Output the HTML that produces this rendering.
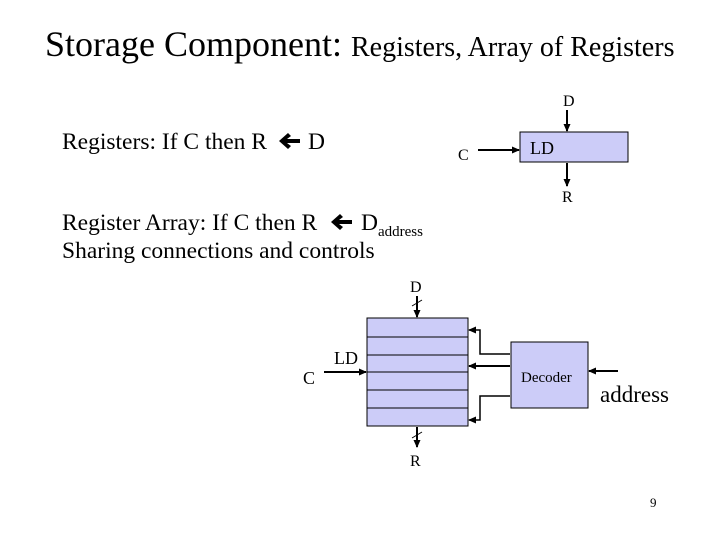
<!DOCTYPE html>
<html><head><meta charset="utf-8"><style>
body{margin:0;background:#fff}
svg text{font-family:"Liberation Serif",serif;fill:#000}
</style></head><body>
<svg width="720" height="540" viewBox="0 0 720 540" xmlns="http://www.w3.org/2000/svg">
<defs><marker id="a" markerWidth="8" markerHeight="8" refX="7" refY="4" orient="auto" markerUnits="userSpaceOnUse"><path d="M0,0.5 L8,4 L0,7.5z" fill="#000"/></marker></defs>
<text x="45" y="56" font-size="36">Storage Component: <tspan font-size="28">Registers, Array of Registers</tspan></text>
<text x="62" y="149" font-size="23.5">Registers: If C then R</text>
<path d="M279,141 L288,133 L291,136 L287,139 L300,139 L300,143 L287,143 L291,146 L288,149 Z" fill="#000"/>
<text x="308" y="149" font-size="23.5">D</text>
<text x="62" y="230" font-size="23.5">Register Array: If C then R</text>
<path d="M331,222 L340,214 L343,217 L339,220 L352,220 L352,224 L339,224 L343,227 L340,230 Z" fill="#000"/>
<text x="361" y="230" font-size="23.5">D<tspan font-size="15" dy="6">address</tspan></text>
<text x="62" y="258" font-size="23.5">Sharing connections and controls</text>
<text x="563" y="106" font-size="16">D</text>
<line x1="567" y1="110" x2="567" y2="131" stroke="#000" stroke-width="2" marker-end="url(#a)"/>
<rect x="520" y="132" width="108" height="30" fill="#ccccf8" stroke="#000"/>
<text x="530" y="154" font-size="18">LD</text>
<text x="458" y="160" font-size="16">C</text>
<line x1="478" y1="150" x2="519" y2="150" stroke="#000" stroke-width="2" marker-end="url(#a)"/>
<line x1="567" y1="163" x2="567" y2="186" stroke="#000" stroke-width="2" marker-end="url(#a)"/>
<text x="562" y="202" font-size="16">R</text>
<text x="410" y="292" font-size="16">D</text>
<line x1="417" y1="296" x2="417" y2="317" stroke="#000" stroke-width="2" marker-end="url(#a)"/>
<line x1="412" y1="306" x2="422" y2="300" stroke="#000"/>
<rect x="367" y="318" width="101" height="108" fill="#ccccf8" stroke="#000"/>
<g stroke="#000"><line x1="367" y1="337" x2="468" y2="337"/><line x1="367" y1="355" x2="468" y2="355"/><line x1="367" y1="372" x2="468" y2="372"/><line x1="367" y1="390" x2="468" y2="390"/><line x1="367" y1="408" x2="468" y2="408"/></g>
<line x1="417" y1="427" x2="417" y2="447" stroke="#000" stroke-width="2" marker-end="url(#a)"/>
<line x1="412" y1="438" x2="422" y2="432" stroke="#000"/>
<text x="410" y="466" font-size="16">R</text>
<text x="303" y="384" font-size="18">C</text>
<text x="334" y="364" font-size="18">LD</text>
<line x1="324" y1="372" x2="366" y2="372" stroke="#000" stroke-width="2" marker-end="url(#a)"/>
<rect x="511" y="342" width="77" height="66" fill="#ccccf8" stroke="#000"/>
<text x="521" y="382" font-size="15">Decoder</text>
<polyline points="510,354 480,354 480,330 469,330" fill="none" stroke="#000" stroke-width="1.5" marker-end="url(#a)"/>
<line x1="510" y1="366" x2="469" y2="366" stroke="#000" stroke-width="2" marker-end="url(#a)"/>
<polyline points="510,396 480,396 480,420 469,420" fill="none" stroke="#000" stroke-width="1.5" marker-end="url(#a)"/>
<line x1="618" y1="371" x2="589" y2="371" stroke="#000" stroke-width="2" marker-end="url(#a)"/>
<text x="600" y="402" font-size="23">address</text>
<text x="650" y="507" font-size="13">9</text>
</svg>
</body></html>
